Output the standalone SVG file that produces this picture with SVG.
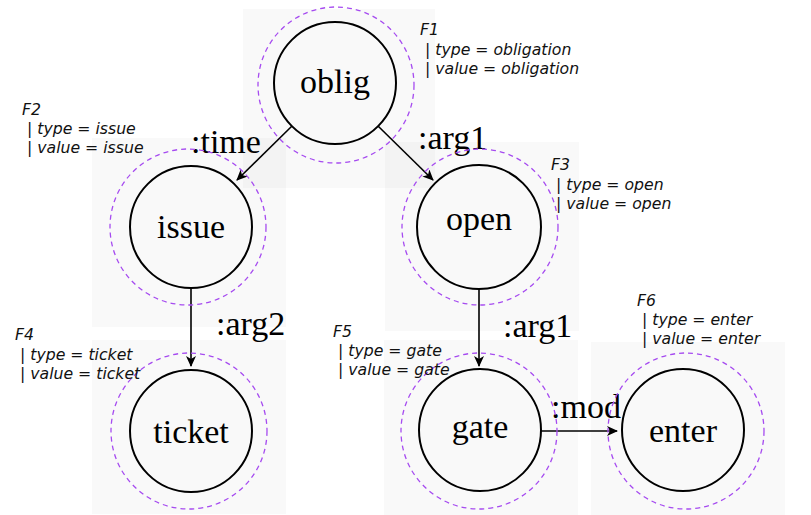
<svg xmlns="http://www.w3.org/2000/svg" width="811" height="515" viewBox="0 0 811 515">
<style>
.bg{fill:#000;fill-opacity:0.022;stroke:none}
.node{fill:none;stroke:#000;stroke-width:2}
.ring{fill:none;stroke:#a64bf0;stroke-width:1.3;stroke-dasharray:5 4}
.lbl{font-family:"Liberation Serif","DejaVu Serif",serif;font-size:34px;fill:#000;text-anchor:middle}
.elbl{font-family:"Liberation Serif","DejaVu Serif",serif;font-size:34px;fill:#000}
.feat{font-family:"DejaVu Sans",sans-serif;font-style:italic;font-size:15.7px;fill:#111}
.edge{stroke:#000;stroke-width:1.6;fill:none;marker-end:url(#ah)}
</style>
<defs>
<marker id="ah" markerWidth="12" markerHeight="10" refX="10" refY="5" orient="auto" markerUnits="userSpaceOnUse">
<path d="M0,0 L11,5 L0,10 L3,5 Z" fill="#000"/>
</marker>
</defs>
<rect width="811" height="515" fill="#fff"/>
<g id="backgrounds">
<rect class="bg" x="243" y="9" width="192" height="179"/>
<rect class="bg" x="92" y="138" width="194" height="189"/>
<rect class="bg" x="385" y="142" width="194" height="189"/>
<rect class="bg" x="92" y="340" width="194" height="174"/>
<rect class="bg" x="384" y="340" width="194" height="175"/>
<rect class="bg" x="591" y="342" width="194" height="173"/>
</g>
<g id="connectors">
<line class="edge" x1="292" y1="126" x2="237" y2="180"/>
<text class="elbl" x="191" y="153">:time</text>
<line class="edge" x1="378" y1="126" x2="433" y2="180"/>
<text class="elbl" x="418" y="149">:arg1</text>
<line class="edge" x1="191" y1="288" x2="191" y2="366"/>
<text class="elbl" x="216" y="335">:arg2</text>
<line class="edge" x1="479" y1="288" x2="479" y2="366"/>
<text class="elbl" x="503" y="337">:arg1</text>
<line class="edge" x1="541" y1="431" x2="617" y2="431"/>
<text class="elbl" x="551" y="418">:mod</text>
</g>
<g id="oblig">
<circle class="ring" cx="336" cy="85" r="78"/>
<circle class="node" cx="335" cy="83" r="61"/>
<text class="lbl" x="335" y="93">oblig</text>
<text class="feat" x="420" y="35">F1</text>
<text class="feat" x="425" y="55">| type = obligation</text>
<text class="feat" x="425" y="74">| value = obligation</text>
</g>
<g id="issue">
<circle class="ring" cx="188" cy="227" r="78"/>
<circle class="node" cx="191" cy="227" r="61"/>
<text class="lbl" x="191" y="238">issue</text>
<text class="feat" x="22" y="115">F2</text>
<text class="feat" x="27" y="134">| type = issue</text>
<text class="feat" x="27" y="153">| value = issue</text>
</g>
<g id="open">
<circle class="ring" cx="480" cy="227" r="78"/>
<circle class="node" cx="479" cy="227" r="62"/>
<text class="lbl" x="479" y="230">open</text>
<text class="feat" x="551" y="170">F3</text>
<text class="feat" x="556" y="190">| type = open</text>
<text class="feat" x="556" y="209">| value = open</text>
</g>
<g id="ticket">
<circle class="ring" cx="189" cy="431" r="78"/>
<circle class="node" cx="191" cy="431" r="61"/>
<text class="lbl" x="191" y="443">ticket</text>
<text class="feat" x="15" y="340">F4</text>
<text class="feat" x="20" y="360">| type = ticket</text>
<text class="feat" x="20" y="379">| value = ticket</text>
</g>
<g id="gate">
<circle class="ring" cx="479" cy="431" r="78"/>
<circle class="node" cx="480" cy="430" r="61"/>
<text class="lbl" x="480" y="438">gate</text>
<text class="feat" x="333" y="337">F5</text>
<text class="feat" x="338" y="356">| type = gate</text>
<text class="feat" x="338" y="375">| value = gate</text>
</g>
<g id="enter">
<circle class="ring" cx="686" cy="431" r="78"/>
<circle class="node" cx="683" cy="430" r="61"/>
<text class="lbl" x="683" y="442">enter</text>
<text class="feat" x="637" y="306">F6</text>
<text class="feat" x="642" y="325">| type = enter</text>
<text class="feat" x="642" y="344">| value = enter</text>
</g>
</svg>
